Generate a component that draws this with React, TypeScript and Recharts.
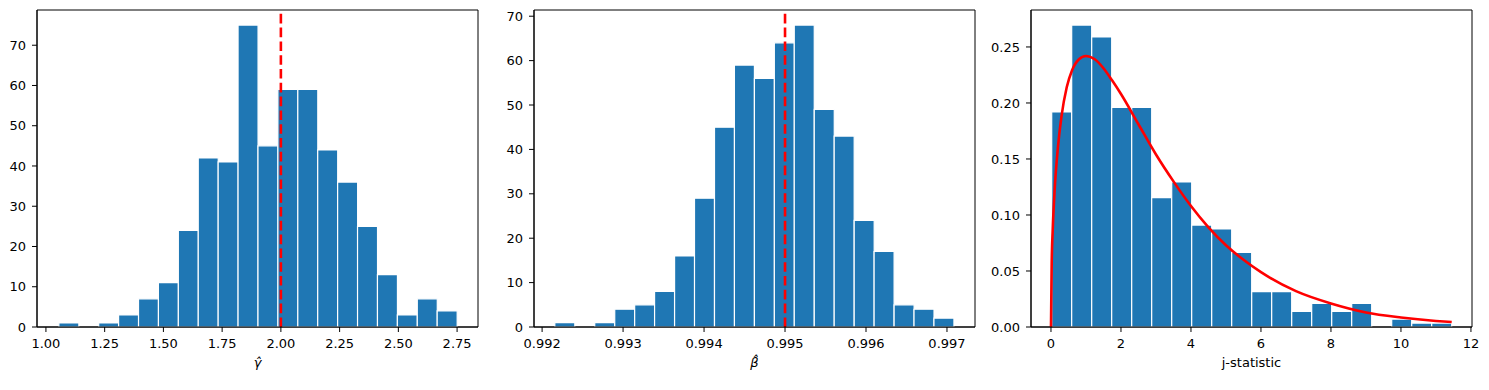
import {
  ComposedChart,
  Bar,
  Line,
  XAxis,
  YAxis,
  ReferenceLine,
  ReferenceArea,
} from "recharts";

// gamma-hat histogram (bin centres, counts)
const gammaBins = [
  1.0974, 1.1821, 1.2669, 1.3516, 1.4364, 1.5211, 1.6059, 1.6906, 1.7754, 1.8601,
  1.9449, 2.0296, 2.1144, 2.1991, 2.2839, 2.3686, 2.4534, 2.5381, 2.6229, 2.7076,
];
const gammaCounts = [1, 0, 1, 3, 7, 11, 24, 42, 41, 75, 45, 59, 59, 44, 36, 25, 13, 3, 7, 4];
const gammaXTicks = [1.0, 1.25, 1.5, 1.75, 2.0, 2.25, 2.5, 2.75];
const gammaYTicks = [0, 10, 20, 30, 40, 50, 60, 70];
const gammaTrue = 2.0;

// beta-hat histogram
const betaBins = [
  0.99228, 0.992527, 0.992773, 0.99302, 0.993266, 0.993512, 0.993759, 0.994005, 0.994252, 0.994498,
  0.994745, 0.994991, 0.995237, 0.995484, 0.99573, 0.995977, 0.996223, 0.99647, 0.996716, 0.996962,
];
const betaCounts = [1, 0, 1, 4, 5, 8, 16, 29, 45, 59, 56, 64, 68, 49, 43, 24, 17, 5, 4, 2];
const betaXTicks = [0.992, 0.993, 0.994, 0.995, 0.996, 0.997];
const betaYTicks = [0, 10, 20, 30, 40, 50, 60, 70];
const betaTrue = 0.995;

// j-statistic histogram (density) + fitted curve
const jBins = [
  0.306, 0.877, 1.449, 2.02, 2.592, 3.163, 3.735, 4.306, 4.878, 5.449,
  6.021, 6.592, 7.164, 7.735, 8.307, 8.878, 9.45, 10.021, 10.593, 11.164,
];
const jDensity = [
  0.192, 0.2695, 0.259, 0.196, 0.196, 0.1155, 0.1295, 0.091, 0.0875, 0.0665,
  0.0315, 0.0315, 0.014, 0.021, 0.014, 0.021, 0, 0.007, 0.0035, 0.0035,
];
const jCurveX = [
  0, 0.02, 0.05, 0.1, 0.2, 0.3, 0.45, 0.6, 0.8, 1.0, 1.25, 1.5, 1.75, 2, 2.5, 3, 3.5,
  4, 4.5, 5, 5.5, 6, 7, 8, 9, 10, 11, 11.45,
];
const jCurveY = [
  0, 0.056, 0.087, 0.12, 0.161, 0.188, 0.214, 0.229, 0.239, 0.242, 0.239, 0.231, 0.22,
  0.208, 0.181, 0.154, 0.13, 0.108, 0.089, 0.073, 0.06, 0.049, 0.032, 0.021, 0.013,
  0.0085, 0.0054, 0.0044,
];
const jXTicks = [0, 2, 4, 6, 8, 10, 12];
const jYTicks = [0, 0.05, 0.1, 0.15, 0.2, 0.25];

const gammaData = gammaBins.map((x, i) => ({ x, count: gammaCounts[i] }));
const betaData = betaBins.map((x, i) => ({ x, count: betaCounts[i] }));
const jData = jBins.map((x, i) => ({ x, count: jDensity[i] }));
const jCurve = jCurveX.map((x, i) => ({ x, y: jCurveY[i] }));

const BLUE = "#1f77b4";
const tickStyle = { fill: "#000", fontSize: 13 };
const labelStyle = { fill: "#000", fontSize: 13 };

type PanelProps = {
  left: number;
  yWidth: number;
  data: { x: number; count: number }[];
  xDomain: [number, number];
  yDomain: [number, number];
  xTicks: number[];
  yTicks: number[];
  xFmt: (v: number) => string;
  yFmt: (v: number) => string;
  label: string;
  italic?: boolean;
  trueValue?: number;
  curve?: { x: number; y: number }[];
};

function Panel(p: PanelProps) {
  const plotW = 441;
  return (
    <div style={{ position: "absolute", left: p.left, top: 0 }}>
      <ComposedChart
        width={p.yWidth + plotW + 12}
        height={390}
        data={p.data}
        margin={{ top: 10, right: 12, bottom: 22, left: 0 }}
        barCategoryGap={0}
        barGap={0}
      >
        <XAxis
          dataKey="x"
          type="number"
          domain={p.xDomain}
          allowDataOverflow
          ticks={p.xTicks}
          interval={0}
          tickFormatter={p.xFmt}
          tickSize={5}
          tickMargin={7}
          height={41}
          stroke="#000"
          tick={tickStyle}
          label={{
            value: p.label,
            position: "insideBottom",
            offset: 1,
            style: { ...labelStyle, fontStyle: p.italic ? "italic" : "normal" },
          }}
        />
        {p.curve && (
          <XAxis
            xAxisId="curve"
            type="number"
            dataKey="x"
            domain={p.xDomain}
            allowDataOverflow
            hide
          />
        )}
        <YAxis
          type="number"
          domain={p.yDomain}
          allowDataOverflow
          ticks={p.yTicks}
          interval={0}
          tickFormatter={p.yFmt}
          tickSize={5}
          tickMargin={6}
          width={p.yWidth}
          stroke="#000"
          tick={tickStyle}
        />
        <Bar
          dataKey="count"
          fill={BLUE}
          stroke="#fff"
          strokeWidth={1.2}
          isAnimationActive={false}
        />
        {p.curve && (
          <Line
            xAxisId="curve"
            data={p.curve}
            dataKey="y"
            type="monotone"
            stroke="red"
            strokeWidth={2.6}
            dot={false}
            activeDot={false}
            isAnimationActive={false}
          />
        )}
        {p.trueValue !== undefined && (
          <ReferenceLine
            x={p.trueValue}
            stroke="red"
            strokeWidth={2.6}
            strokeDasharray="9.6 4.2"
          />
        )}
        {/* axes frame */}
        <ReferenceArea
          x1={p.xDomain[0]}
          x2={p.xDomain[1]}
          y1={p.yDomain[0]}
          y2={p.yDomain[1]}
          fill="none"
          fillOpacity={0}
          stroke="#000"
          strokeWidth={1}
          strokeOpacity={1}
        />
      </ComposedChart>
    </div>
  );
}

export default function App() {
  return (
    <div
      style={{
        position: "absolute",
        left: 0,
        top: 0,
        width: 1489,
        height: 390,
        background: "#fff",
        fontFamily: "'DejaVu Sans', sans-serif",
      }}
    >
      <Panel
        left={0}
        yWidth={37}
        data={gammaData}
        xDomain={[0.962, 2.839]}
        yDomain={[0, 78.75]}
        xTicks={gammaXTicks}
        yTicks={gammaYTicks}
        xFmt={(v) => v.toFixed(2)}
        yFmt={(v) => String(v)}
        label="γ̂"
        italic
        trueValue={gammaTrue}
      />
      <Panel
        left={497}
        yWidth={37}
        data={betaData}
        xDomain={[0.9919, 0.997346]}
        yDomain={[0, 71.4]}
        xTicks={betaXTicks}
        yTicks={betaYTicks}
        xFmt={(v) => v.toFixed(3)}
        yFmt={(v) => String(v)}
        label="β̂"
        italic
        trueValue={betaTrue}
      />
      <Panel
        left={986}
        yWidth={45}
        data={jData}
        xDomain={[-0.571, 12.03]}
        yDomain={[0, 0.283]}
        xTicks={jXTicks}
        yTicks={jYTicks}
        xFmt={(v) => String(v)}
        yFmt={(v) => v.toFixed(2)}
        label="j-statistic"
        curve={jCurve}
      />
    </div>
  );
}
